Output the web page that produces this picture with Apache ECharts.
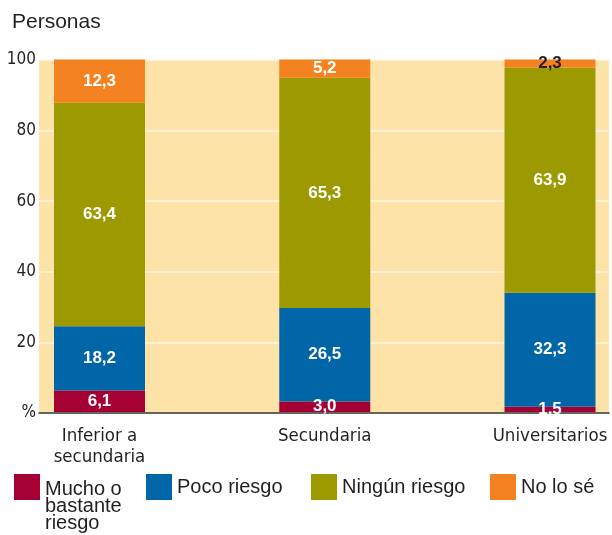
<!DOCTYPE html>
<html>
<head>
<meta charset="utf-8">
<script src="https://cdn.jsdelivr.net/npm/echarts@6/dist/echarts.min.js"></script>
<style>
  html, body { margin: 0; padding: 0; background: #ffffff; }
  #chart { width: 612px; height: 535px; }
</style>
</head>
<body>
<div id="chart"></div>
<script>
// Education levels and answer shares (%)
const categories = ['Inferior a\nsecundaria', 'Secundaria', 'Universitarios'];
const seriesNames = ['Mucho o bastante riesgo', 'Poco riesgo', 'Ningún riesgo', 'No lo sé'];
const muchoRiesgo = [6.1, 3.0, 1.5];
const pocoRiesgo = [18.2, 26.5, 32.3];
const ningunRiesgo = [63.4, 65.3, 63.9];
const noLoSe = [12.3, 5.2, 2.3];
const yTicks = [0, 20, 40, 60, 80, 100];

const seriesValues = [muchoRiesgo, pocoRiesgo, ningunRiesgo, noLoSe];
const colors = ['#A50034', '#0066A8', '#9C9A00', '#F58220'];
const ink = '#231F20';
const narrow = "'DejaVu Sans Condensed', 'DejaVu Sans', sans-serif";
const regular = "'Liberation Sans', Arial, sans-serif";

const fmt = v => v.toFixed(1).replace('.', ',');

const series = seriesValues.map((values, s) => ({
  name: seriesNames[s],
  type: 'bar',
  stack: 'total',
  xAxisIndex: 1,
  yAxisIndex: 1,
  barWidth: 91,
  itemStyle: { color: colors[s] },
  label: {
    show: true,
    position: 'inside',
    color: '#ffffff',
    fontFamily: regular,
    fontWeight: 'bold',
    fontSize: 17,
    formatter: p => fmt(p.value)
  },
  data: values.map(v => {
    // a thin top segment sits against the white page, so its label goes dark
    if (s === seriesValues.length - 1 && v < 4) {
      return { value: v, label: { color: ink } };
    }
    return v;
  })
}));

const legendBase = {
  orient: 'horizontal',
  padding: 0,
  icon: 'rect',
  itemWidth: 26,
  itemHeight: 26,
  itemGap: 5,
  selectedMode: false,
  textStyle: { fontFamily: regular, fontSize: 20, color: ink }
};

const option = {
  animation: false,
  backgroundColor: '#ffffff',
  title: {
    text: 'Personas',
    left: 12,
    top: 12,
    padding: 0,
    textStyle: { fontFamily: regular, fontSize: 21, fontWeight: 'normal', color: ink }
  },
  legend: [
    Object.assign({}, legendBase, {
      data: [seriesNames[0]],
      left: 14,
      top: 442.5,
      // two spacer lines keep the first text line level with the swatch
      formatter: () => '{gap|}\n{gap|}\nMucho o\nbastante\nriesgo',
      textStyle: Object.assign({}, legendBase.textStyle, {
        lineHeight: 17,
        rich: { gap: { lineHeight: 19, fontSize: 1 } }
      })
    }),
    Object.assign({}, legendBase, { data: [seriesNames[1]], left: 146, top: 474 }),
    Object.assign({}, legendBase, { data: [seriesNames[2]], left: 311, top: 474 }),
    Object.assign({}, legendBase, { data: [seriesNames[3]], left: 490, top: 474 })
  ],
  grid: [
    // tinted plot backdrop with gridlines and the value axis
    { left: 39, right: 3, top: 60, bottom: 122, show: true, backgroundColor: '#FEE3A8', borderWidth: 0, outerBoundsMode: 'none' },
    // bars, centred on the category points
    { left: 99.5, right: 62, top: 59.5, bottom: 123, outerBoundsMode: 'none' }
  ],
  xAxis: [
    {
      gridIndex: 0,
      type: 'value',
      min: 0,
      max: 1,
      axisLine: { show: true, onZero: false, lineStyle: { color: '#333333', width: 1.5 } },
      axisTick: { show: false },
      axisLabel: { show: false },
      splitLine: { show: false }
    },
    {
      gridIndex: 1,
      type: 'category',
      data: categories,
      boundaryGap: false,
      axisLine: { show: false },
      axisTick: { show: false },
      splitLine: { show: false },
      axisLabel: {
        interval: 0,
        margin: 14,
        fontFamily: narrow,
        fontSize: 18.5,
        lineHeight: 21,
        color: ink
      }
    }
  ],
  yAxis: [
    {
      gridIndex: 0,
      type: 'value',
      min: yTicks[0],
      max: yTicks[yTicks.length - 1],
      interval: yTicks[1] - yTicks[0],
      axisLine: { show: false },
      axisTick: { show: false },
      splitLine: { show: true, lineStyle: { color: '#FFF6E4', width: 1.5 } },
      axisLabel: {
        margin: 3,
        fontFamily: narrow,
        fontSize: 17,
        color: ink,
        formatter: v => (v === 0 ? '%' : String(v))
      }
    },
    {
      gridIndex: 1,
      type: 'value',
      min: 0,
      max: 100,
      show: false
    }
  ],
  series: series
};

const chart = echarts.init(document.getElementById('chart'), null, { renderer: 'canvas' });
chart.setOption(option);
</script>
</body>
</html>
